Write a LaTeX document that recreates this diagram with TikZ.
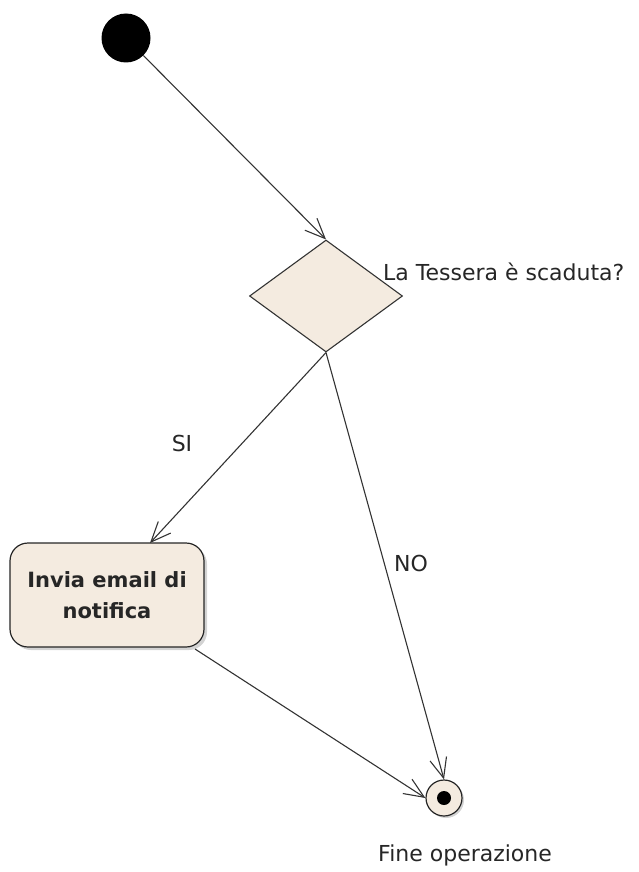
\documentclass[tikz,border=0pt]{standalone}
\usepackage{fontspec}
\setmainfont{DejaVu Sans}
\usetikzlibrary{arrows.meta,shapes.geometric,shadows}
\definecolor{beige}{RGB}{244,235,224}
\tikzset{
  flow/.style={draw=black!80, line width=1.1pt, -{Straight Barb[length=20pt,width=17pt,line width=1.1pt]}},
  lbl/.style={font=\fontsize{22}{26}\selectfont, inner sep=0pt, text=black!85},
}
\begin{document}
\begin{tikzpicture}[x=1pt,y=-1pt]
\useasboundingbox (0,0) rectangle (639,872);
\node[circle, fill=black, minimum size=49pt, inner sep=0pt] (start) at (126,38) {};
\node[diamond, draw=black!80, line width=1.1pt, fill=beige, minimum width=153pt, minimum height=112pt, inner sep=0pt, aspect=1.37] (dec) at (326,296) {};
\node[lbl, anchor=west] (declbl) at (383,272) {La Tessera è scaduta?};
\node[draw=black!85, line width=1.2pt, fill=beige, rounded corners=18pt, minimum width=194pt, minimum height=104pt, align=center, font=\bfseries\fontsize{21}{31}\selectfont, text=black!85, drop shadow={shadow xshift=3pt, shadow yshift=-3pt, opacity=0.35}] (act) at (107,595) {Invia email di\\notifica};
\node[circle, draw=black!85, line width=1.2pt, fill=beige, minimum size=36pt, inner sep=0pt, drop shadow={shadow xshift=2pt, shadow yshift=-2pt, opacity=0.35}] (end) at (444,798) {};
\node[circle, fill=black, minimum size=14pt, inner sep=0pt] (endin) at (end.center) {};
\node[lbl, anchor=west] (endlbl) at (378,855) {Fine operazione};
\coordinate (a1) at (150,543);
\draw[flow] (start) -- (dec.north);
\draw[flow] (dec.south) -- (a1);
\node[lbl] (silbl) at (182,443) {SI};
\draw[flow] (dec.south) -- (end.north);
\node[lbl] (nolbl) at (411,563) {NO};
\coordinate (a2) at (195,649);
\draw[flow] (a2) -- (end.west);
\end{tikzpicture}
\end{document}
